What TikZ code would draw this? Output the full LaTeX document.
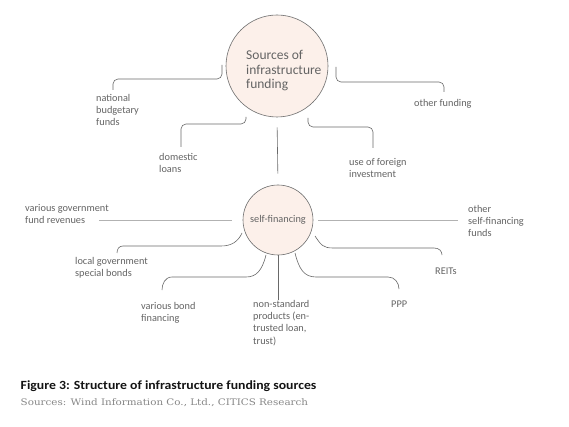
\documentclass[tikz,border=0pt]{standalone}
\usepackage{fontspec}
\setmainfont{Carlito}
\newfontfamily\titlefont{Carlito}[FakeStretch=1.1]
\newfontfamily\srcfont{DejaVu Serif}[FakeStretch=1.15]
\usetikzlibrary{calc}
\definecolor{cLine}{RGB}{105,105,105}
\definecolor{cLight}{RGB}{178,178,178}
\definecolor{cText}{RGB}{100,100,100}
\definecolor{cFill}{RGB}{252,240,234}
\definecolor{cRing}{RGB}{110,110,110}
\definecolor{cTitle}{RGB}{20,20,20}
\definecolor{cNote}{RGB}{135,135,135}
\tikzset{
	hub/.style ={circle, draw=cRing, fill=cFill, line width=0.6pt, inner sep=0pt},
	lbl/.style ={anchor=north west, inner sep=0pt, align=left, text=cText, font=\fontsize{10.3}{12.3}\selectfont},
	link/.style={draw=cLine, line width=0.6pt},
	flat/.style={draw=cLight, line width=0.6pt},
}

\begin{document}
\begin{tikzpicture}[x=1pt, y=-1pt]
	\fill[white] (0,0) rectangle (569,427);
	\useasboundingbox (0,0) rectangle (569,427);
	% the two hubs
	\node[hub, minimum size=102pt] (src) at (277,66) {};
	\node[anchor=north west, inner sep=0pt, align=left, text=cText, font=\fontsize{13.5}{14.5}\selectfont] (srctext) at ($(src)+(-31,-15.5)$) {Sources of\\infrastructure\\funding};
	\node[hub, minimum size=70pt, text=cText, font=\fontsize{10.3}{12}\selectfont] (self) at (278,220) {self-financing};
	% labels
	\node[lbl] (nbf) at (96,94) {national\\budgetary\\funds};
	\node[lbl, anchor=base west] (other) at (414,107) {other funding};
	\node[lbl] (dom) at (159,153) {domestic\\loans};
	\node[lbl] (foreign) at (349,158) {use of foreign\\investment};
	\node[lbl] (vgf) at (25,204) {various government\\fund revenues};
	\node[lbl] (osf) at (468,205) {other\\self-financing\\funds};
	\node[lbl] (lgsb) at (75,257) {local government\\special bonds};
	\node[lbl, anchor=base west] (reits) at (435,274) {REITs};
	\node[lbl] (bond) at (141,302) {various bond\\financing};
	\node[lbl] (nonstd) at (253,300) {non-standard\\products (en-\\trusted loan,\\trust)};
	\node[lbl, anchor=base west] (ppp) at (391,307) {PPP};
	% bracket ends
	\coordinate (k1) at (113,90);
	\coordinate (k2) at (444,92);
	\coordinate (k3) at (181,147);
	\coordinate (k4) at (373,148);
	\coordinate (k6) at (117,253);
	\coordinate (k7) at (162,290);
	\coordinate (k8) at (278,300);
	\coordinate (k9) at (399,289);
	\coordinate (k10) at (442,255);
	\coordinate (k11) at (99,220);
	\coordinate (k12) at (458,220);
	% upper brackets
	\draw[link, rounded corners=5pt] ($(src)+(-55,-1)$) |- ($(k1)+(0,-11)$) -- (k1);
	\draw[link, rounded corners=5pt] ($(src)+(59,1)$) |- ($(k2)+(0,-10)$) -- (k2);
	\draw[link, rounded corners=5pt] ($(src)+(-31,51)$) |- ($(k3)+(0,-23)$) -- (k3);
	\draw[link, rounded corners=5pt] ($(src)+(31,52)$) |- ($(k4)+(0,-21)$) -- (k4);
	\draw[link, shorten <=10pt, shorten >=11pt] (src.south) -- (self.north);
	% lower curves
	\draw[link] ($(self)+(-36,13)$) .. controls +(-4,9) and +(10,0) .. ($(self)+(-57,26)$) -- ($(k6)+(6,-7)$) .. controls +(-4,0) and +(0,-4) .. (k6);
	\draw[link] ($(self)+(-12,35)$) .. controls +(-4,16) and +(10,0) .. ($(self)+(-32,57)$) -- ($(k7)+(10,-13)$) .. controls +(-7,0) and +(0,-6) .. (k7);
	\draw[link] (self.south) -- (k8);
	\draw[link] ($(self)+(17,33)$) .. controls +(4,16) and +(-12,0) .. ($(self)+(38,57)$) -- ($(k9)+(-11,-12)$) .. controls +(7,0) and +(0,-6) .. (k9);
	\draw[link] ($(self)+(37,16)$) .. controls +(6,9) and +(-10,0) .. ($(self)+(55,28)$) -- ($(k10)+(-8,-7)$) .. controls +(5,0) and +(0,-4) .. (k10);
	\draw[flat, shorten >=11pt] (k11) -- (self.west);
	\draw[flat, shorten <=5pt] (self.east) -- (k12);
	% caption
	\node[anchor=base west, inner sep=0pt, text=cTitle, font=\titlefont\bfseries\fontsize{12.5}{14}\selectfont] (title) at (20.5,389.5) {Figure 3: Structure of infrastructure funding sources};
	\node[anchor=base west, inner sep=0pt, text=cNote, font=\srcfont\fontsize{9}{11}\selectfont] (note) at (20.5,405.5) {Sources: Wind Information Co., Ltd., CITICS Research};
\end{tikzpicture}
\end{document}
